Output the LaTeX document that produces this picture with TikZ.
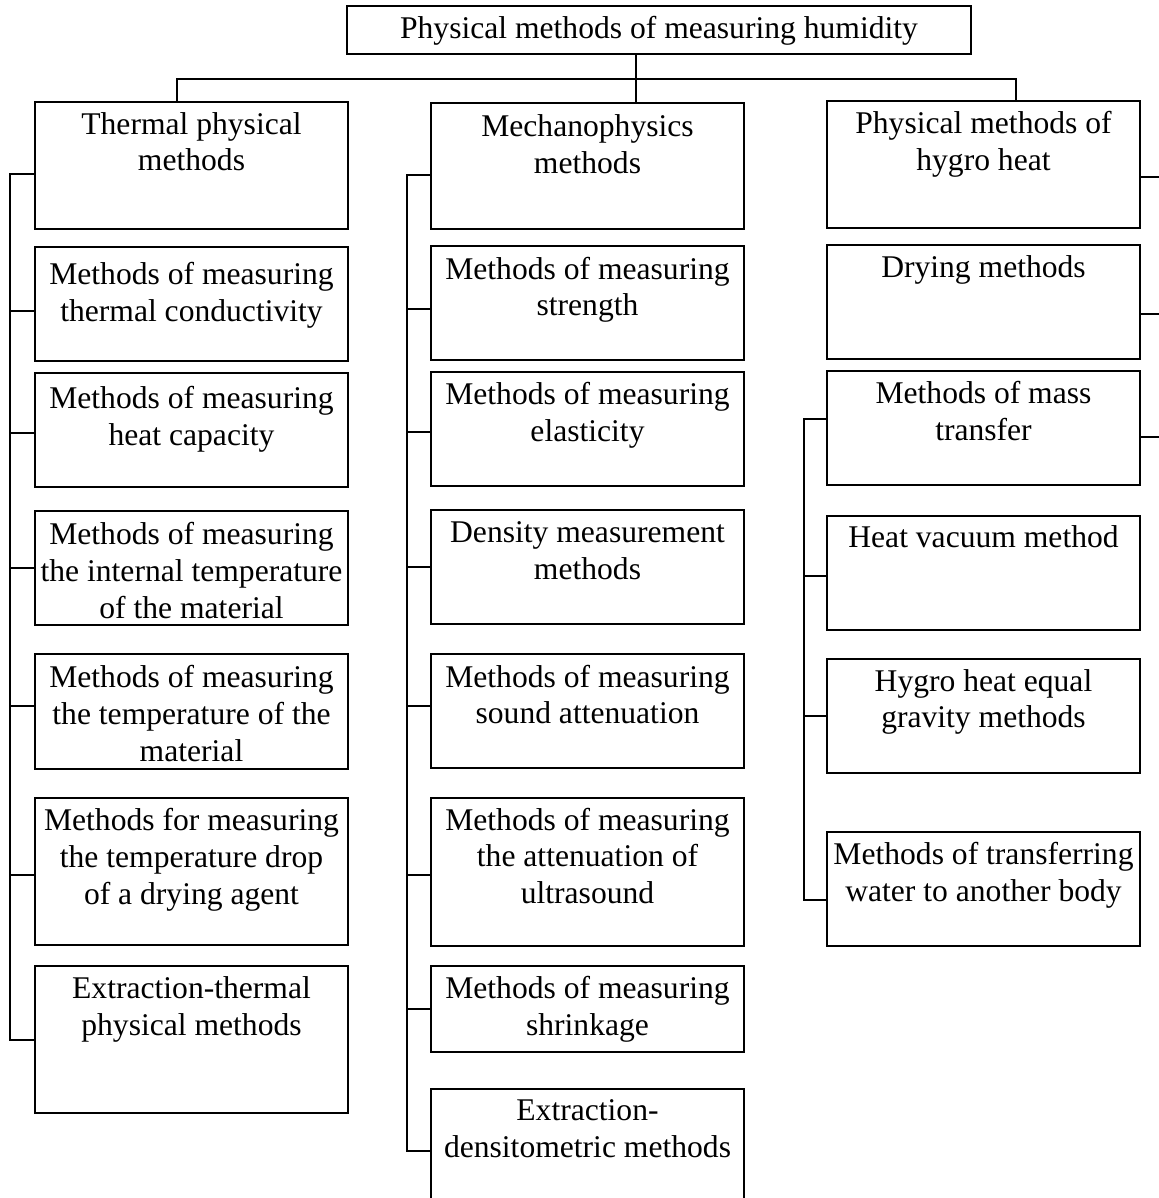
\documentclass[tikz,border=0pt]{standalone}
\usepackage{fontspec}
\setmainfont{Liberation Serif}
\usepackage{tikz}
\usetikzlibrary{positioning}
\tikzset{
    topblock/.style={
           rectangle,
           draw=black, line width=1pt,
           minimum width=312pt,
           minimum height=24pt,
           inner sep=0pt, outer sep=0pt,
           text centered,
           },
    block/.style={
           rectangle,
           draw=black, line width=1pt,
           inner sep=0pt, outer sep=0pt,
           },
    link/.style={
           -, line width=1pt,
           },
}
\newcommand{\boxtext}[3][5.2pt]{%
  \parbox[t][#2][t]{156.5pt}{\centering\vspace*{#1}#3}}

\begin{document}
\begin{tikzpicture}[x=0.5pt, y=-0.5pt, font=\fontsize{15.8pt}{18.35pt}\selectfont]
	\useasboundingbox (0,0) rectangle (1158,1198);

	\node[topblock] (top) at (659,30.5) {Physical methods of measuring humidity};

	% thermal physical column
	\node[block, anchor=north west] (tp) at (35,102.5) {\boxtext[4.9pt]{63.5pt}{Thermal physical\\methods}};
	\node[block, below=8.7pt of tp] (tcond) {\boxtext[7.8pt]{57pt}{Methods of measuring\\thermal conductivity}};
	\node[block, below=5.8pt of tcond] (tcap) {\boxtext[6.9pt]{57pt}{Methods of measuring\\heat capacity}};
	\node[block, below=12pt of tcap] (tint) {\boxtext[6pt]{57pt}{Methods of measuring\\the internal temperature\\of the material}};
	\node[block, below=14.5pt of tint] (tmat) {\boxtext[6pt]{57.5pt}{Methods of measuring\\the temperature of the\\material}};
	\node[block, below=14.8pt of tmat] (tdrop) {\boxtext[5.3pt]{73.5pt}{Methods for measuring\\the temperature drop\\of a drying agent}};
	\node[block, below=10.6pt of tdrop] (textr) {\boxtext{73.5pt}{Extraction-thermal\\physical methods}};

	% mechanophysics column
	\node[block, anchor=north west] (mp) at (431,103) {\boxtext[5.8pt]{63pt}{Mechanophysics\\methods}};
	\node[block, below=8.7pt of mp] (mstr) {\boxtext{57pt}{Methods of measuring\\strength}};
	\node[block, below=5.8pt of mstr] (mela) {\boxtext{57pt}{Methods of measuring\\elasticity}};
	\node[block, below=12.2pt of mela] (mden) {\boxtext[5.8pt]{57pt}{Density measurement\\methods}};
	\node[block, below=14.8pt of mden] (msnd) {\boxtext[5.5pt]{57pt}{Methods of measuring\\sound attenuation}};
	\node[block, below=14.8pt of msnd] (mult) {\boxtext{74pt}{Methods of measuring\\the attenuation of\\ultrasound}};
	\node[block, below=10.2pt of mult] (mshr) {\boxtext{43pt}{Methods of measuring\\shrinkage}};
	\node[block, below=18.5pt of mshr] (mextr) {\boxtext[5.5pt]{62pt}{Extraction-\\densitometric methods}};

	% hygro heat column
	\node[block, anchor=north west] (hh) at (827,101.5) {\boxtext[4.9pt]{63.2pt}{Physical methods of\\hygro heat}};
	\node[block, below=8.7pt of hh] (hdry) {\boxtext{57pt}{Drying methods}};
	\node[block, below=5.8pt of hdry] (hmass) {\boxtext{57pt}{Methods of mass\\transfer}};
	\node[block, below=15.3pt of hmass] (hvac) {\boxtext{57pt}{Heat vacuum method}};
	\node[block, below=14.7pt of hvac] (hequ) {\boxtext{57pt}{Hygro heat equal\\gravity methods}};
	\node[block, below=29.7pt of hequ] (htrans) {\boxtext{57pt}{Methods of transferring\\water to another body}};

	% top level
	\coordinate (hubL) at (177,79);
	\coordinate (hubM) at (636,79);
	\coordinate (hubR) at (1016,79);
	\draw[link] (top.south -| hubM) -- (mp.north -| hubM);
	\draw[link] (tp.north -| hubL) |- (hubR) -- (hh.north -| hubR);

	% left bus
	\draw[link] ([yshift=-4.2pt]tp.west) -- ++(-25,0) |- (textr.west);
	\draw[link] ([yshift=-3.5pt]tcond.west) -- ++(-25,0);
	\draw[link] ([yshift=-1.6pt]tcap.west) -- ++(-25,0);
	\draw[link] (tint.west) -- ++(-25,0);
	\draw[link] ([yshift=2.4pt]tmat.west) -- ++(-25,0);
	\draw[link] ([yshift=-1.8pt]tdrop.west) -- ++(-25,0);

	% middle bus
	\draw[link] ([yshift=-4.3pt]mp.west) -- ++(-24,0) |- (mextr.west);
	\draw[link] ([yshift=-3pt]mstr.west) -- ++(-24,0);
	\draw[link] ([yshift=-1.5pt]mela.west) -- ++(-24,0);
	\draw[link] (mden.west) -- ++(-24,0);
	\draw[link] ([yshift=2.7pt]msnd.west) -- ++(-24,0);
	\draw[link] ([yshift=-1.5pt]mult.west) -- ++(-24,0);
	\draw[link] (mshr.west) -- ++(-24,0);

	% right bus
	\draw[link] ([yshift=4.5pt]hmass.west) -- ++(-23,0) |- ([yshift=-5.5pt]htrans.west);
	\draw[link] ([yshift=-1.9pt]hvac.west) -- ++(-23,0);
	\draw[link] (hequ.west) -- ++(-23,0);

	% stubs leaving on the right
	\draw[link] ([yshift=-6pt]hh.east) -- ++(30,0);
	\draw[link] ([yshift=-5.9pt]hdry.east) -- ++(30,0);
	\draw[link] ([yshift=-4.3pt]hmass.east) -- ++(30,0);

\end{tikzpicture}
\end{document}
